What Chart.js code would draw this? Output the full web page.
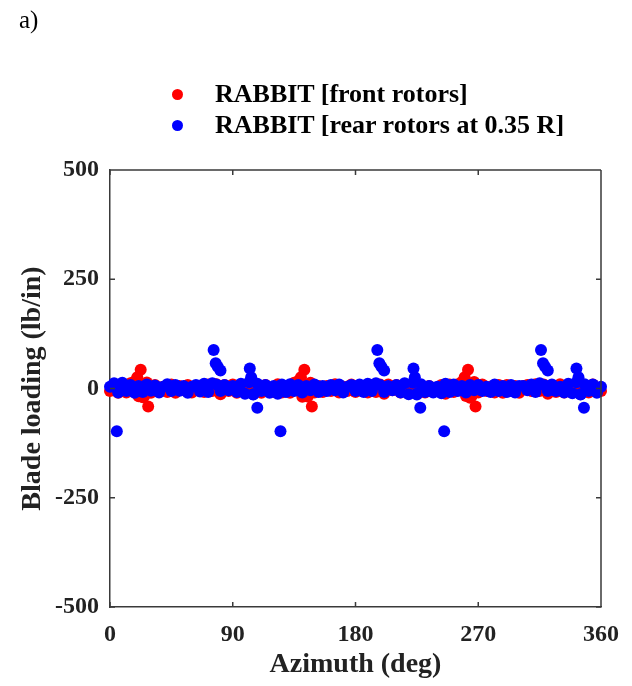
<!DOCTYPE html>
<html lang="en">
<head>
    <meta charset="UTF-8">
    <title>Blade loading</title>
    <style>
        body { margin: 0; background: #fff; }
        .wrap { position: relative; width: 632px; height: 686px; }
        canvas { position: absolute; left: 0; top: 0; }
        .label-a {
            position: absolute; left: 19px; top: 6px;
            font: 25px "Liberation Serif", serif; color: #000;
        }
        .legend {
            position: absolute; left: 172px; top: 78px;
            font: bold 26px "Liberation Serif", serif; color: #000;
        }
        .legend div { height: 31px; line-height: 31px; white-space: nowrap; }
        .legend span.dot {
            display: inline-block; width: 11px; height: 11px; border-radius: 50%;
            margin-right: 32px; vertical-align: 2px;
        }
    </style>
</head>
<body>
    <div class="wrap">
        <canvas id="loadChart" width="632" height="686"></canvas>
        <div class="label-a">a)</div>
        <div class="legend" id="legend"></div>
    </div>
    <script src="https://cdn.jsdelivr.net/npm/chart.js"></script>
    <script>
        // azimuth grid (deg)
        const azimuth = [0,3,6,9,12,15,18,21,24,27,30,33,36,39,42,45,48,51,54,57,60,63,66,69,72,75,78,81,84,87,90,93,96,99,102,105,108,111,114,117,
            120,123,126,129,132,135,138,141,144,147,150,153,156,159,162,165,168,171,174,177,180,183,186,189,192,195,198,201,204,207,210,213,216,219,222,225,228,231,234,237,
            240,243,246,249,252,255,258,261,264,267,270,273,276,279,282,285,288,291,294,297,300,303,306,309,312,315,318,321,324,327,330,333,336,339,342,345,348,351,354,357,360];

        // front rotors, blade loading (lb/in)
        const frontLoad = [-6,9,-10,8,-9,12,16,-18,-20,14,-10,8,-6,4,-8,9,-10,6,-4,8,-9,4,6,-8,9,-6,10,-13,8,-6,9,-10,6,-8,10,-9,6,-10,8,-4,
            -8,10,-9,6,-10,13,17,-19,-18,13,-9,6,-8,6,-6,10,-9,4,-6,9,-8,6,4,-9,8,-8,9,-12,9,-4,8,-9,8,-6,9,-10,8,-9,6,-6,
            -4,8,-12,9,-8,10,15,-17,-21,15,-9,9,-6,4,-9,8,-10,8,-4,6,-10,6,8,-6,10,-6,9,-12,6,-8,10,-9,4,-9,12,-8,6,-9,9,-4,-6];
        const frontPeakAz = [20, 22.5, 25, 28, 140, 142.5, 145, 148, 260, 262.5, 265, 268];
        const frontPeakLoad = [26, 43, -18, -41, 26, 43, -18, -41, 26, 43, -18, -41];

        // rear rotors at 0.35 R
        const rearLoad = [4,12,-9,13,-6,8,-10,6,-8,9,-5,7,-9,4,10,-6,8,-5,6,-10,4,8,-7,11,-8,12,9,-6,8,-4,6,-8,11,-12,14,-13,11,-6,8,-10,
            6,-12,9,-8,10,-6,8,-9,6,-4,9,-8,6,-6,8,-4,9,-9,4,8,-6,9,-8,11,-6,12,8,-8,6,-4,8,-9,12,-13,13,-12,10,-8,6,-9,
            4,-11,11,-8,9,-6,6,-9,8,-4,8,-6,4,-8,9,-6,6,-8,8,-9,6,6,-4,9,-8,12,8,-6,9,-6,4,-9,11,-11,14,-13,10,-6,9,-10,4];
        const rearPeakAz = [5, 76, 77.5, 79, 81, 102.5, 103.5, 105, 108, 125, 196, 197.5, 199, 201, 222.5, 223.5, 225, 227.5,
            245, 316, 317.5, 319, 321, 342, 343.5, 345, 347.5];
        const rearPeakLoad = [-98, 88, 58, 50, 41, 46, 26, -14, -44, -98, 88, 58, 50, 41, 46, 26, -14, -44,
            -98, 88, 58, 50, 41, 46, 26, -14, -44];

        const seriesNames = ['RABBIT [front rotors]', 'RABBIT [rear rotors at 0.35 R]'];
        const seriesColors = ['#ff0000', '#0000ff'];
        const xTicks = [0, 90, 180, 270, 360];
        const yTicks = [-500, -250, 0, 250, 500];

        function toPoints(az, vals) {
            return az.map((a, i) => ({ x: a, y: vals[i] }));
        }

        // legend as html
        const legend = document.getElementById('legend');
        seriesNames.forEach((name, i) => {
            const row = document.createElement('div');
            row.innerHTML = '<span class="dot" style="background:' + seriesColors[i] + '"></span>' + name;
            legend.appendChild(row);
        });

        const axisColor = '#3a3a3a';
        const tickFont = { family: 'Liberation Serif', size: 24, weight: 'bold' };
        const titleFont = { family: 'Liberation Serif', size: 28, weight: 'bold' };

        // box and inward tick marks
        const boxPlugin = {
            id: 'boxTicks',
            afterDraw(chart) {
                const { ctx, chartArea: a, scales } = chart;
                ctx.save();
                ctx.strokeStyle = axisColor;
                ctx.lineWidth = 1.5;
                ctx.beginPath();
                ctx.moveTo(a.left, a.top); ctx.lineTo(a.right, a.top);
                ctx.moveTo(a.right, a.top); ctx.lineTo(a.right, a.bottom);
                xTicks.forEach(v => {
                    const px = scales.x.getPixelForValue(v);
                    ctx.moveTo(px, a.bottom); ctx.lineTo(px, a.bottom - 5);
                    ctx.moveTo(px, a.top); ctx.lineTo(px, a.top + 5);
                });
                yTicks.forEach(v => {
                    const py = scales.y.getPixelForValue(v);
                    ctx.moveTo(a.left, py); ctx.lineTo(a.left + 5, py);
                    ctx.moveTo(a.right, py); ctx.lineTo(a.right - 5, py);
                });
                ctx.stroke();
                ctx.restore();
            }
        };

        new Chart(document.getElementById('loadChart'), {
            type: 'scatter',
            data: {
                datasets: [
                    {
                        label: seriesNames[0],
                        data: toPoints(azimuth, frontLoad).concat(toPoints(frontPeakAz, frontPeakLoad)),
                        backgroundColor: seriesColors[0],
                        borderWidth: 0,
                        pointRadius: 6,
                        clip: false,
                        order: 2
                    },
                    {
                        label: seriesNames[1],
                        data: toPoints(azimuth, rearLoad).concat(toPoints(rearPeakAz, rearPeakLoad)),
                        backgroundColor: seriesColors[1],
                        borderWidth: 0,
                        pointRadius: 6,
                        clip: false,
                        order: 1
                    }
                ]
            },
            options: {
                responsive: false,
                animation: false,
                layout: { padding: { top: 170, right: 30, left: 0, bottom: 0 } },
                plugins: { legend: { display: false }, tooltip: { enabled: false } },
                scales: {
                    x: {
                        type: 'linear', min: 0, max: 360,
                        afterFit(scale) { scale.height = 79; },
                        afterBuildTicks(scale) { scale.ticks = xTicks.map(v => ({ value: v })); },
                        grid: { display: false, drawTicks: false },
                        border: { display: true, color: axisColor, width: 1.5 },
                        ticks: { font: tickFont, color: '#222', padding: 13, maxRotation: 0 },
                        title: { display: true, text: 'Azimuth (deg)', font: titleFont, color: '#222', padding: { top: 0 } }
                    },
                    y: {
                        type: 'linear', min: -500, max: 500,
                        afterFit(scale) { scale.width = 110; },
                        afterBuildTicks(scale) { scale.ticks = yTicks.map(v => ({ value: v })); },
                        grid: { display: false, drawTicks: false },
                        border: { display: true, color: axisColor, width: 1.5 },
                        ticks: { font: tickFont, color: '#222', padding: 11 },
                        title: { display: true, text: 'Blade loading (lb/in)', font: titleFont, color: '#222', padding: { top: 16 } }
                    }
                }
            },
            plugins: [boxPlugin]
        });
    </script>
</body>
</html>
